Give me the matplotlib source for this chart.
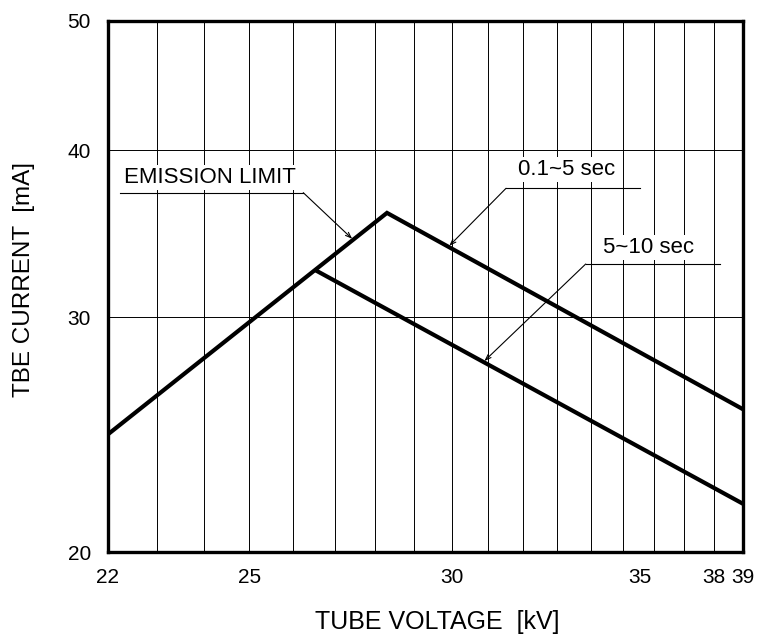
import numpy as np
import matplotlib
matplotlib.use("Agg")
import matplotlib.pyplot as plt
from matplotlib.ticker import FixedLocator, NullFormatter
from matplotlib.transforms import ScaledTranslation

plt.rcParams['font.family'] = ['Liberation Sans', 'DejaVu Sans']

# rating curves, tube voltage [kV] vs current [mA]
short_kv = [22.0, 28.3, 39.0]      # emission limit up to the knee, then 0.1~5 sec
short_ma = [24.5, 35.9, 25.6]
long_kv = [26.55, 39.0]            # 5~10 sec
long_ma = [32.5, 21.75]

x_ticks = [22, 25, 30, 35, 38, 39]
x_grid = list(range(22, 40))
y_ticks = [20, 30, 40, 50]


def on_curve(kv, xs, ys):
    # point on a log-log polyline at the given voltage
    lx = np.log(xs)
    ly = np.log(ys)
    return kv, float(np.exp(np.interp(np.log(kv), lx, ly)))


fig = plt.figure(figsize=(7.6, 6.37), dpi=100)
ax = fig.add_axes([0.1417, 0.1330, 0.9772 - 0.1417, 0.9675 - 0.1330])

ax.set_xscale('log')
ax.set_yscale('log')
ax.set_xlim(22, 39)
ax.set_ylim(20, 50)

ax.xaxis.set_major_locator(FixedLocator(x_ticks))
ax.xaxis.set_minor_locator(FixedLocator(x_grid))
ax.xaxis.set_minor_formatter(NullFormatter())
ax.set_xticklabels([str(t) for t in x_ticks])
ax.yaxis.set_major_locator(FixedLocator(y_ticks))
ax.yaxis.set_minor_locator(FixedLocator([]))
ax.yaxis.set_minor_formatter(NullFormatter())
ax.set_yticklabels([str(t) for t in y_ticks])

ax.grid(True, which='both', color='black', lw=0.7)
ax.set_axisbelow(True)
ax.tick_params(which='both', length=0, labelsize=15)
ax.tick_params(axis='x', pad=11)
ax.tick_params(axis='y', pad=12)

for s in ax.spines.values():
    s.set_linewidth(2.4)

# the "35" label sits a little right of its grid line
lbl = ax.get_xticklabels()[3]
lbl.set_transform(lbl.get_transform() + ScaledTranslation(0.17, 0, fig.dpi_scale_trans))

ax.plot(short_kv, short_ma, color='black', lw=3.0, solid_joinstyle='miter', zorder=3)
ax.plot(long_kv, long_ma, color='black', lw=3.0, solid_joinstyle='miter', zorder=3)

arrow = dict(arrowstyle='->, head_length=0.4, head_width=0.15', color='black',
             lw=0.8, shrinkA=0, shrinkB=1)
notes = [
    # text, text x, baseline y, underline x0, x1, y, elbow x, arrow target
    ('EMISSION LIMIT', 0.1611, 0.6941, 0.0194, 0.3080, 0.6765, 0.3080,
     on_curve(27.45, short_kv, short_ma)),
    ('0.1~5 sec', 0.7233, 0.7098, 0.6273, 0.8382, 0.6847, 0.6273,
     on_curve(29.91, short_kv, short_ma)),
    ('5~10 sec', 0.8524, 0.5636, 0.7528, 0.9646, 0.5423, 0.7528,
     on_curve(30.87, long_kv, long_ma)),
]
for txt, tx, ty, u0, u1, uy, ex, tip in notes:
    ax.text(tx, ty, txt, transform=ax.transAxes, ha='center', va='baseline',
            fontsize=16, zorder=4,
            bbox=dict(fc='white', ec='none', pad=1.5))
    ax.plot([u0, u1], [uy, uy], transform=ax.transAxes, color='black',
            lw=0.8, zorder=4)
    ax.annotate('', xy=tip, xycoords='data', xytext=(ex, uy),
                textcoords='axes fraction', arrowprops=arrow, zorder=4)

ax.set_xlabel('TUBE VOLTAGE  [kV]', fontsize=18)
ax.set_ylabel('TBE CURRENT  [mA]', fontsize=17.5)
ax.xaxis.set_label_coords(0.5186, -0.132)
ax.yaxis.set_label_coords(-0.1318, 0.514)
ax.xaxis.label.set_va('center')
ax.yaxis.label.set_va('center')

fig.savefig('out.png', dpi=100)
